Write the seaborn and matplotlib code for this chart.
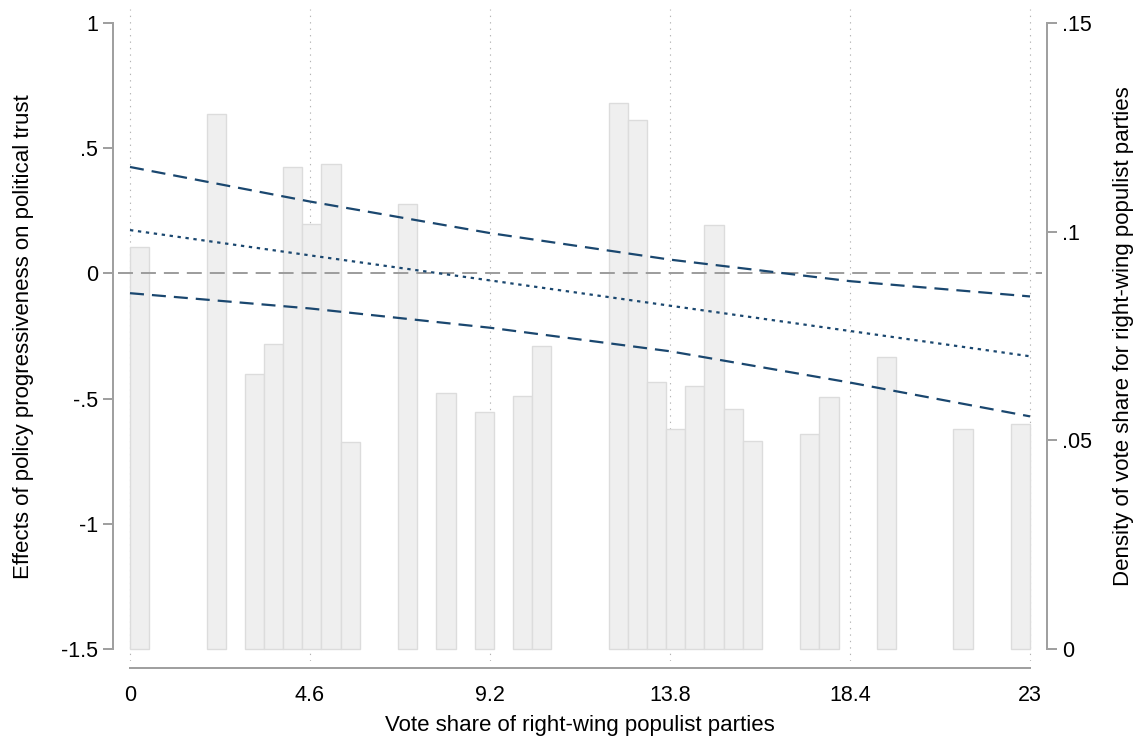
import matplotlib
matplotlib.use("Agg")
import matplotlib.pyplot as plt
import seaborn as sns
from matplotlib.ticker import FixedLocator

# ---------------- data ----------------
# histogram: bin midpoints of the non-empty bins (47 bins over 0..23) and their densities
vote_share_bins = [0.24, 2.20, 3.18, 3.67, 4.16, 4.65, 5.14, 5.63, 7.10, 8.07,
                   9.05, 10.03, 10.52, 12.48, 12.97, 13.46, 13.95, 14.44, 14.93,
                   15.41, 15.90, 17.37, 17.86, 19.33, 21.29, 22.76]
density = [0.0963, 0.1283, 0.0658, 0.0730, 0.1156, 0.1019, 0.1162, 0.0496, 0.1067,
           0.0614, 0.0568, 0.0606, 0.0726, 0.1309, 0.1268, 0.0640, 0.0527, 0.0630,
           0.1016, 0.0576, 0.0498, 0.0514, 0.0603, 0.0699, 0.0526, 0.0540]
n_bins = 47
bin_range = (0, 23)

# marginal effect and 95% CI
x_points = [0, 4.6, 9.2, 13.8, 18.4, 23]
effect_upper = [0.425, 0.287, 0.161, 0.055, -0.031, -0.092]
effect_est = [0.173, 0.072, -0.028, -0.129, -0.230, -0.331]
effect_lower = [-0.079, -0.140, -0.217, -0.311, -0.436, -0.571]

x_ticks = [0, 4.6, 9.2, 13.8, 18.4, 23]
x_ticklabels = ["0", "4.6", "9.2", "13.8", "18.4", "23"]
y_ticks = [-1.5, -1, -0.5, 0, 0.5, 1]
y_ticklabels = ["-1.5", "-1", "-.5", "0", ".5", "1"]
y_grid = [-1, -0.5, 0, 0.5]
d_ticks = [0, 0.05, 0.1, 0.15]
d_ticklabels = ["0", ".05", ".1", ".15"]

xlabel = "Vote share of right-wing populist parties"
ylabel = "Effects of policy progressiveness on political trust"
ylabel2 = "Density of vote share for right-wing populist parties"

# ---------------- style ----------------
sns.set_style("white")
plt.rcParams["font.family"] = ["Liberation Sans", "DejaVu Sans"]
plt.rcParams["text.color"] = "black"
plt.rcParams["axes.labelcolor"] = "black"

NAVY = "#1a476f"
AXIS_GRAY = "#a0a0a0"
GRID_GRAY = "#b4b4b4"
BAR_FILL = "#efefef"
BAR_EDGE = "#dcdcdc"
TICK_FS = 15.5
LABEL_FS = 16

W, H = 1137, 742
fig = plt.figure(figsize=(W / 100, H / 100), dpi=100)
# plot region in pixels: x 118..1042, y 9..661
ax = fig.add_axes([118 / W, (H - 661) / H, 924 / W, 652 / H])

# --- base axes: grid + left/bottom axes
ax.set_xticks(x_ticks)
ax.set_xticklabels(x_ticklabels)
ax.set_yticks(y_ticks)
ax.set_yticklabels(y_ticklabels)
ax.yaxis.set_minor_locator(FixedLocator(y_grid))
grid_style = dict(color=GRID_GRAY, linestyle=(0, (1.2, 4.6)), linewidth=0.8)
ax.grid(True, axis="x", which="major", **grid_style)
ax.grid(True, axis="y", which="minor", **grid_style)
ax.grid(False, axis="y", which="major")

ax.tick_params(axis="both", which="major", direction="out", length=7.2, width=1.44,
               color=AXIS_GRAY, labelcolor="black", labelsize=TICK_FS)
ax.tick_params(axis="x", which="major", pad=5)
ax.tick_params(axis="y", which="major", pad=3.6)
ax.tick_params(which="minor", length=0)

for s in ["top", "right"]:
    ax.spines[s].set_visible(False)
for s in ["left", "bottom"]:
    ax.spines[s].set_color(AXIS_GRAY)
    ax.spines[s].set_linewidth(1.44)
ax.spines["left"].set_position(("outward", 3.6))
ax.spines["left"].set_bounds(-1.5, 1)
ax.spines["bottom"].set_position(("outward", 4.8))
ax.spines["bottom"].set_bounds(0, 23)

# --- histogram on right axis
ax2 = ax.twinx()
sns.histplot(x=vote_share_bins, weights=density, bins=n_bins, binrange=bin_range,
             stat="count", ax=ax2, color=BAR_FILL, edgecolor=BAR_EDGE,
             linewidth=1.0, alpha=1)
# drop empty bins so no outline is drawn along the baseline
for p in list(ax2.patches):
    if p.get_height() <= 0:
        p.remove()
for s in ["top", "left", "bottom"]:
    ax2.spines[s].set_visible(False)
ax2.spines["right"].set_color(AXIS_GRAY)
ax2.spines["right"].set_linewidth(1.44)
ax2.spines["right"].set_position(("outward", 3.4))
ax2.spines["right"].set_bounds(0, 0.15)
ax2.set_yticks(d_ticks)
ax2.set_yticklabels(d_ticklabels)
ax2.tick_params(axis="y", which="major", direction="out", length=7.2, width=1.44,
                color=AXIS_GRAY, labelcolor="black", labelsize=TICK_FS, pad=4)
ax2.grid(False)
ax2.set_xlabel("")
ax2.set_ylabel(ylabel2, fontsize=LABEL_FS, rotation=90, va="center", ha="center",
               color="black")
ax2.yaxis.set_label_coords((1124 - 118) / 924, (661 - 336.5) / 652)

# --- lines on top layer sharing the left scale
ax_line = fig.add_axes(ax.get_position(), sharex=ax, sharey=ax)
ax_line.axis("off")
ax_line.axhline(0, color="#9c9c9c", linewidth=1.4, linestyle=(0, (7.7, 4.1)), zorder=1)
sns.lineplot(x=x_points, y=effect_upper, ax=ax_line, color=NAVY, linewidth=1.6,
             linestyle=(0, (6.3, 3.6)), zorder=3)
sns.lineplot(x=x_points, y=effect_est, ax=ax_line, color=NAVY, linewidth=1.6,
             linestyle=(0, (1.5, 2.1)), zorder=3)
sns.lineplot(x=x_points, y=effect_lower, ax=ax_line, color=NAVY, linewidth=1.6,
             linestyle=(0, (6.3, 3.6)), zorder=3)

# --- labels & limits
ax.set_xlabel(xlabel, fontsize=LABEL_FS, labelpad=6.5, color="black")
ax.set_ylabel(ylabel, fontsize=LABEL_FS, va="center", ha="center", color="black")
ax.yaxis.set_label_coords((24 - 118) / 924, (661 - 336.5) / 652)

px_x = 23 / 900.0
ax.set_xlim(0 - 12 * px_x, 23 + 12 * px_x)
px_y = 2.5 / 626.0
ax.set_ylim(-1.5 - 12 * px_y, 1 + 14 * px_y)
px_d = 0.15 / 626.0
ax2.set_ylim(0 - 12 * px_d, 0.15 + 14 * px_d)

fig.savefig("out.png", dpi=100)
